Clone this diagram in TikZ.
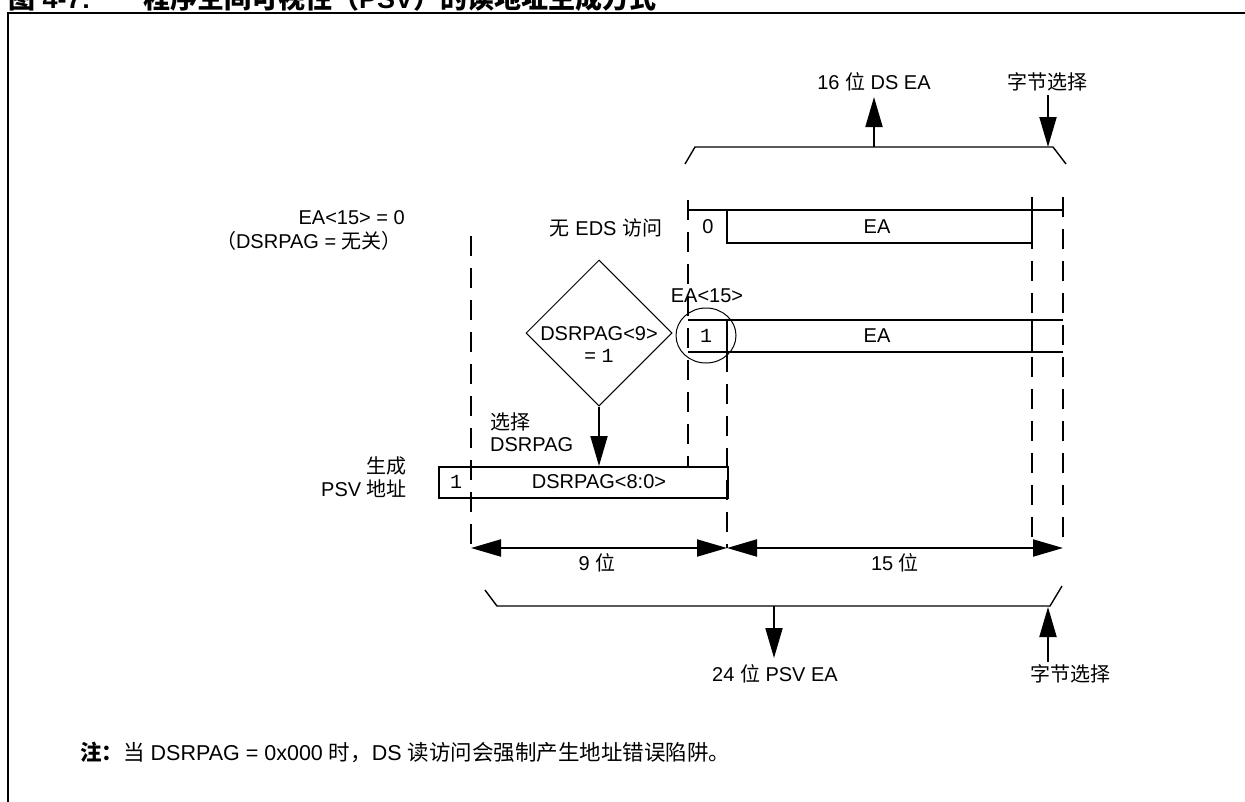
\documentclass[tikz,border=0pt]{standalone}
\usepackage{fontspec}
\setmainfont{Liberation Sans}
\setmonofont{Liberation Mono}
\newfontfamily\cjk{Noto Sans CJK SC}
\usetikzlibrary{arrows.meta,shapes.geometric}
\tikzset{
  lbl/.style={font=\fontsize{20}{24}\selectfont, inner sep=0pt},
  ttl/.style={font=\fontsize{27}{31}\selectfont\bfseries, anchor=base west, inner sep=0pt},
  guide/.style={line width=2pt, dash pattern=on 20pt off 12pt},
  boxline/.style={line width=2pt},
  bighead/.style={line width=2pt, -{Triangle[length=30pt,width=17pt]}},
  dimline/.style={line width=2pt, {Triangle[length=30pt,width=17pt]}-{Triangle[length=30pt,width=17pt]}},
  thinline/.style={line width=1pt},
  brk/.style={line width=1.4pt},
}
\begin{document}
\begin{tikzpicture}[x=1pt,y=-1pt]
\useasboundingbox (0,0) rectangle (1245,801);

% frame and title
\draw[line width=2.5pt] (1250,13) -- (8,13) -- (8,806);
\node[ttl] (title1) at (8,8) {{\cjk 图} 4-7:};
\node[ttl] (title2) at (143,8) {{\cjk 程序空间可视性（}PSV{\cjk ）的读地址生成方式}};

% vertical guide lines
\draw[guide] (471,236) coordinate (ga1) -- (471,548) coordinate (ga2);
\draw[guide] (688,200) coordinate (gb1) -- (688,466) coordinate (gb2);
\draw[guide] (727,352) coordinate (gc1) -- (727,548) coordinate (gc2);
\draw[guide] (1032,197) coordinate (gd1) -- (1032,548) coordinate (gd2);
\draw[guide] (1063,197) coordinate (ge1) -- (1063,548) coordinate (ge2);

% top bracket
\draw[brk] (685,164) coordinate (tb1) -- (695,147) coordinate (tb2) -- (1053,147) coordinate (tb3) -- (1066,164) coordinate (tb4);
\coordinate (tbm) at (874,147);
\node[lbl] (t16) at (874,82) {16 {\cjk 位} DS EA};
\draw[bighead] (tbm) -- (874,97) coordinate (t16a);
\node[lbl] (tsel) at (1047,82) {\cjk 字节选择};
\draw[bighead] (1048,95) coordinate (tsel0) -- (1048,147);

% left labels
\node[lbl, anchor=east] (ea0) at (405,218) {EA<15> = 0};
\node[lbl, anchor=east] (dsx) at (402,241) {{\cjk （}DSRPAG = {\cjk 无关）}};
\node[lbl] (noeds) at (606,228) {{\cjk 无} EDS {\cjk 访问}};

% row 1 : 0 | EA
\draw[boxline] (688,210) -- (1063,210);
\draw[boxline] (727,210) -- (727,243) -- (1032,243) -- (1032,210);
\node[lbl] (z0) at (708,227) {0};
\node[lbl] (ea1) at (877,227) {EA};

% row 2 : 1 | EA
\draw[boxline] (688,320) -- (1063,320);
\draw[boxline] (688,352) -- (1063,352);
\draw[boxline] (727,320) -- (727,352);
\draw[boxline] (1032,320) -- (1032,352);
\node[lbl, font=\ttfamily\fontsize{20}{24}\selectfont] (one2) at (706,336) {1};
\node[lbl] (ea2) at (877,336) {EA};
\node[draw, thinline, ellipse, minimum width=60pt, minimum height=55pt, inner sep=0] (circ) at (706,335.5) {};
\node[lbl] (ea15) at (707,296) {EA<15>};

% diamond
\node[draw, thinline, diamond, minimum width=146pt, minimum height=146pt, inner sep=0] (dia) at (599,333) {};
\node[lbl] (dia1) at (599,334) {DSRPAG<9>};
\node[lbl] (dia2) at (599,356) {= {\ttfamily 1}};

% select label
\node[lbl, anchor=west] (sel1) at (490,422) {\cjk 选择};
\node[lbl, anchor=west] (sel2) at (490,445) {DSRPAG};

% generate label
\node[lbl, anchor=east] (gen1) at (407,466) {\cjk 生成};
\node[lbl, anchor=east] (gen2) at (407,489) {PSV {\cjk 地址}};

% DSRPAG box
\node[draw, boxline, minimum width=289pt, minimum height=31pt, inner sep=0, anchor=north west] (dsbox) at (438,466) {};
\node[lbl, font=\ttfamily\fontsize{20}{24}\selectfont] (one3) at (456,482) {1};
\node[lbl] (dsr) at (599,482) {DSRPAG<8:0>};
\draw[bighead] (dia.south) -- (dia.south |- dsbox.north);

% dimension lines
\draw[dimline] (ga2) -- (gc2);
\draw[dimline] (gc2) -- (ge2);
\node[lbl] (b9) at (597,563) {9 {\cjk 位}};
\node[lbl] (b15) at (895,563) {15 {\cjk 位}};

% lower bracket
\draw[brk] (485,590) coordinate (lb1) -- (497,606) coordinate (lb2) -- (1050,606) coordinate (lb3) -- (1062,586) coordinate (lb4);
\coordinate (lbm) at (774,606);
\node[lbl] (b24) at (775,674) {24 {\cjk 位} PSV EA};
\draw[bighead] (lbm) -- (774,658);
\node[lbl] (bsel) at (1070,674) {\cjk 字节选择};
\draw[bighead] (1048,662) coordinate (bsel0) -- (1048,607);

% note
\node[lbl, font=\fontsize{21.5}{25}\selectfont, anchor=base west] (note) at (80,760) {{\cjk\bfseries 注：}{\cjk 当} DSRPAG = 0x000 {\cjk 时，}DS {\cjk 读访问会强制产生地址错误陷阱。}};
\end{tikzpicture}
\end{document}
